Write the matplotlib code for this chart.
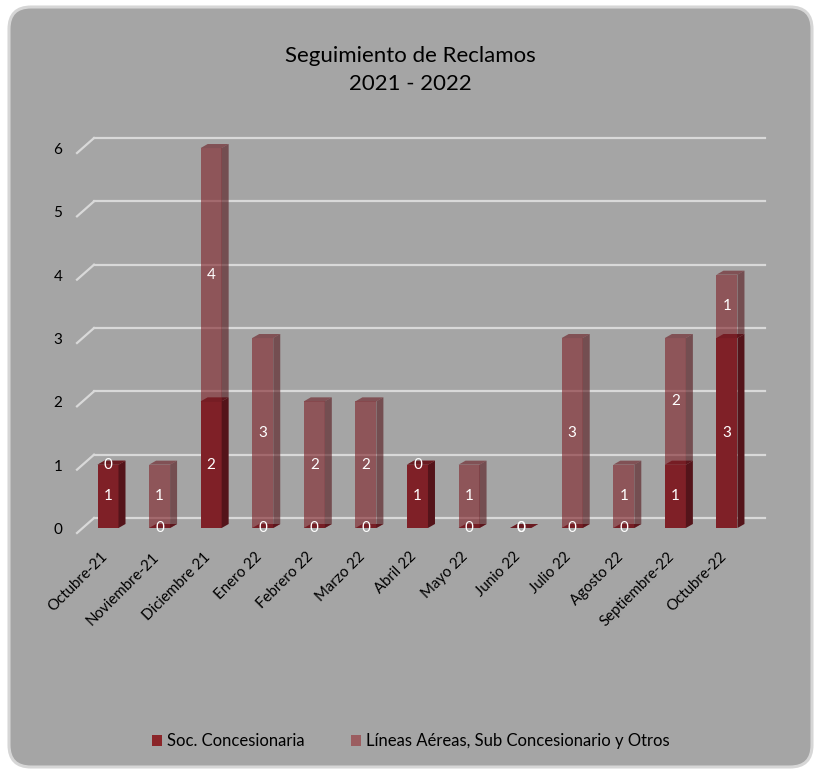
import numpy as np
import matplotlib
matplotlib.use("Agg")
import matplotlib.pyplot as plt
from matplotlib.patches import Polygon, Rectangle, FancyBboxPatch, Patch

plt.rcParams['font.family'] = ['Lato', 'DejaVu Sans']

# data
meses = ['Octubre-21', 'Noviembre-21', 'Diciembre 21', 'Enero 22', 'Febrero 22',
         'Marzo 22', 'Abril 22', 'Mayo 22', 'Junio 22', 'Julio 22', 'Agosto 22',
         'Septiembre-22', 'Octubre-22']
soc = [1, 0, 2, 0, 0, 0, 1, 0, 0, 0, 0, 1, 3]
lineas = [0, 1, 4, 3, 2, 2, 0, 1, 0, 3, 1, 2, 1]
yticks = [0, 1, 2, 3, 4, 5, 6]

fig = plt.figure(figsize=(8.21, 7.74), dpi=100)
fig.patch.set_facecolor('white')

# rounded chart background
bg = FancyBboxPatch((0.09, 0.07), 8.03, 7.60, boxstyle="round,pad=0,rounding_size=0.22",
                    transform=fig.dpi_scale_trans, facecolor='#a5a5a5',
                    edgecolor='#d6d6d6', linewidth=2.2, zorder=-5)
fig.patches.append(bg)

# axes over the whole figure: 51.6 px per category, 63.3 px per unit
ax = fig.add_axes([0, 0, 1, 1])
ax.set_xlim(-108 / 51.58, (821 - 108) / 51.58)
ax.set_ylim((528 - 774) / 63.33, 528 / 63.33)
ax.axis('off')
ax.patch.set_alpha(0)

px_x = 1 / 51.58
px_y = 1 / 63.33

# back-wall gridlines with diagonal floor/side wall
for v in yticks:
    ax.plot([-0.271, 12.74], [v + 10 * px_y, v + 10 * px_y], color='#d9d9d9', lw=1.6, zorder=1)
    ax.plot([-0.601, -0.271], [v - 5 * px_y, v + 10 * px_y], color='#d9d9d9', lw=1.6, zorder=1)
    ax.text(-0.97, v - 2 * px_y, str(v), ha='center', va='center', fontsize=11, color='black')

w = 21 * px_x
dx = 7 * px_x
dy = 4 * px_y


def bar3d(x, b, t, front, side, top, alpha, z):
    ax.add_patch(Rectangle((x - w / 2, b), w, t - b, facecolor=front, edgecolor='none',
                           alpha=alpha, zorder=z))
    ax.add_patch(Polygon([(x + w / 2, b), (x + w / 2 + dx, b + dy), (x + w / 2 + dx, t + dy),
                          (x + w / 2, t)], closed=True, facecolor=side, edgecolor='none',
                         alpha=alpha, zorder=z))
    ax.add_patch(Polygon([(x - w / 2, t), (x - w / 2 + dx, t + dy), (x + w / 2 + dx, t + dy),
                          (x + w / 2, t)], closed=True, facecolor=top, edgecolor='none',
                         alpha=alpha, zorder=z))


x = np.arange(len(meses))
for i in x:
    s = soc[i]
    l = lineas[i]
    bar3d(i, 0, s, '#7f2027', '#54141a', '#6a1a20', 1.0, 2)
    bar3d(i, s, s + l, '#7f2027', '#54141a', '#6a1a20', 0.6, 3)
    ax.text(i, s / 2, str(s), ha='center', va='center', color='white', fontsize=11, zorder=5)
    ax.text(i, s + l / 2, str(l), ha='center', va='center', color='white', fontsize=11, zorder=5)
    ax.text(i - 0.06, -0.42, meses[i], rotation=45, rotation_mode='anchor', ha='right',
            va='center', fontsize=10.8, color='black')

fig.text(0.5, 0.928, 'Seguimiento de Reclamos', ha='center', va='center', fontsize=16)
fig.text(0.5, 0.892, '2021 - 2022', ha='center', va='center', fontsize=16)

handles = [Patch(facecolor='#8b2529', edgecolor='none', label='Soc. Concesionaria'),
           Patch(facecolor='#9b5d60', edgecolor='none', label='Líneas Aéreas, Sub Concesionario y Otros')]
fig.legend(handles=handles, loc='center', bbox_to_anchor=(0.5, 0.042), ncol=2, frameon=False,
           fontsize=12, handlelength=0.6, handleheight=0.6, handletextpad=0.3, columnspacing=2.8)

fig.savefig('out.png', dpi=100, facecolor='white')
